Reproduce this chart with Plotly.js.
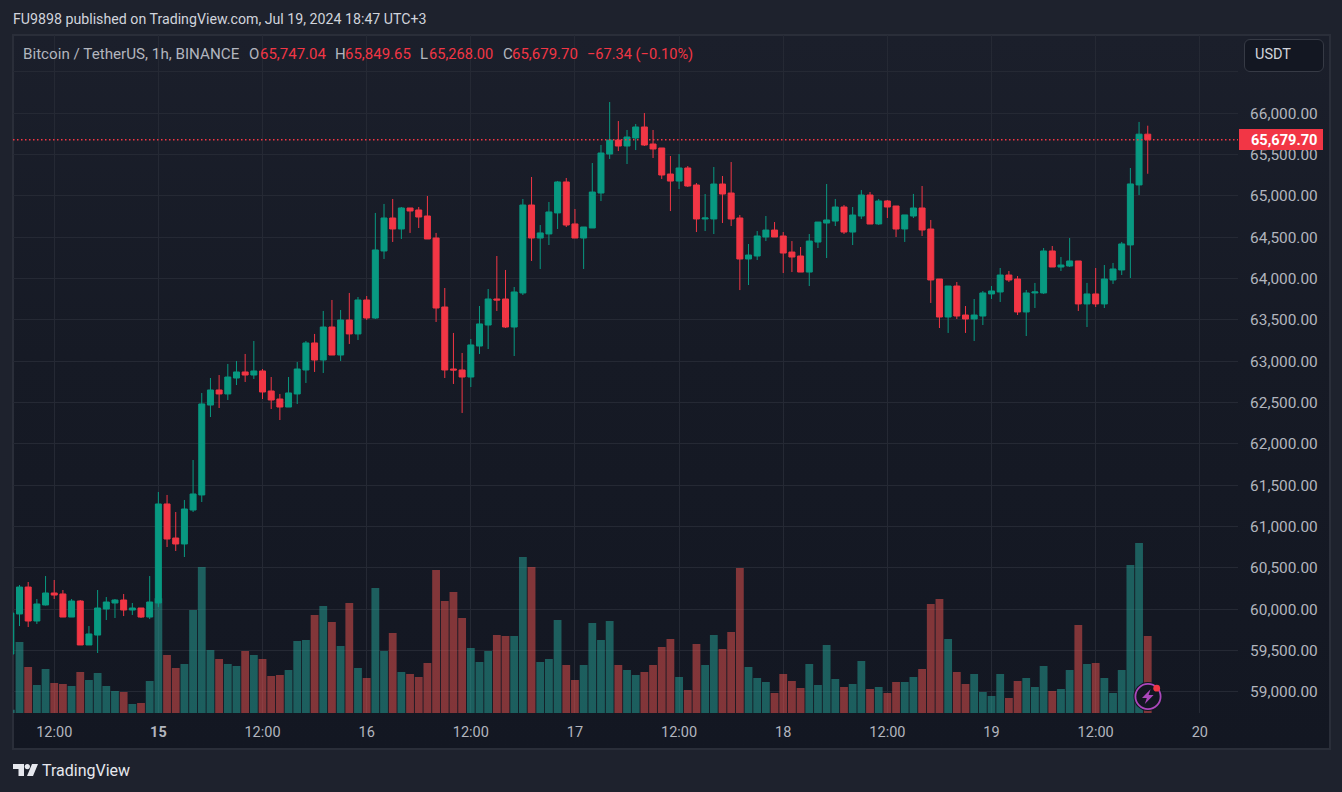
<!DOCTYPE html>
<html><head><meta charset="utf-8">
<script src="https://cdn.plot.ly/plotly-3.0.1.min.js"></script>
<style>
html,body{margin:0;padding:0;background:#1e222d;width:1342px;height:792px;overflow:hidden}
#panel{position:absolute;left:12px;top:34px;width:1315px;height:712px;border:2px solid #2a2e39;background:linear-gradient(180deg,#1b1f2b 0%,#161a25 45%,#131722 100%);box-sizing:content-box}
#usdtbox{position:absolute;left:1244px;top:39px;width:78px;height:31px;border:1.5px solid #363a45;border-radius:6px;background:#131722}
#chart{position:absolute;left:0;top:0;width:1342px;height:792px}
svg.deco{position:absolute;overflow:visible}
</style></head><body>
<div id="panel"></div><div id="usdtbox"></div><div id="chart"></div>
<svg class="deco" style="left:0;top:0" width="1342" height="792">
  <g transform="translate(13,764)" fill="#e6e8ee">
    <path d="M0 0h11v12h-5.5v-7h-5.5z"/><circle cx="14.3" cy="2.6" r="2.6"/><path d="M19 0h6l-5 12h-6z"/>
  </g>
  <g transform="translate(1148,696.5)">
    <circle r="14.5" fill="#131722"/><circle r="12.6" fill="#131722" stroke="#ab47bc" stroke-width="1.8"/>
    <path d="M2.6 -7.2 L-6 1.6 L-1.2 1.6 L-3.2 7.4 L5.6 -1.6 L0.6 -1.6 Z" fill="#ab47bc"/>
    <circle cx="8.7" cy="-8.3" r="3.4" fill="#f23645"/>
  </g>
</svg>
<script>
const startTime = Date.UTC(2024, 6, 14, 7);
const opens = [
59457,59942,60268,59857,60051,60196,60184,59905,60099,59567,
59687,60002,60075,60111,59990,60014,59905,60075,61273,60861,
60789,61200,61382,62470,62652,62604,62797,62870,62833,62882,
62640,62543,62446,62604,62894,63221,63015,63414,63075,63499,
63330,63741,63523,64334,64733,64600,64854,64830,64757,64491,
63656,62906,62894,62809,63184,63438,63753,63753,63414,63826,
64890,64491,64540,64794,65169,64661,64491,64612,65035,65507,
65676,65604,65701,65834,65628,65580,65265,65180,65338,65132,
64721,64721,65144,65035,64733,64237,64273,64503,64587,64515,
64321,64273,64079,64442,64672,64696,64866,64563,64757,65011,
64661,64939,64878,64600,64757,64854,64600,63995,63535,63910,
63559,63511,63547,63814,63838,64043,63995,63596,63826,63826,
64334,64140,64152,64213,63693,63814,63693,63983,64104,64407,
65133,65747.04];
const closes = [
59954,60268,59857,60063,60196,60171,59905,60099,59567,59700,
60014,60087,60111,59990,60014,59905,60087,61273,60849,60789,
61212,61394,62483,62652,62604,62809,62870,62833,62882,62628,
62531,62446,62616,62906,63221,63015,63414,63075,63499,63330,
63741,63523,64346,64733,64600,64854,64818,64745,64479,63644,
62894,62894,62809,63197,63451,63753,63741,63414,63838,64890,
64491,64552,64806,65169,64648,64491,64624,65047,65519,65676,
65604,65713,65834,65616,65568,65253,65180,65338,65120,64721,
64733,65144,65023,64721,64237,64285,64515,64587,64503,64309,
64261,64079,64454,64684,64709,64866,64563,64769,65011,64660,
64939,64866,64600,64770,64854,64588,63983,63535,63910,63547,
63511,63559,63826,63850,64043,63983,63596,63826,63838,64334,
64140,64164,64213,63693,63814,63693,63995,64116,64419,65145,
65747,65679.70];
const highs = [
60000,60292,60329,60123,60401,60353,60232,60123,60111,59796,
60232,60147,60123,60184,60075,60014,60401,61418,61382,61176,
61321,61805,62616,62797,62833,62967,63003,63088,63245,62906,
62809,62604,62809,62991,63245,63330,63608,63741,63620,63826,
63777,63789,64794,64903,64963,64866,64854,64866,64999,64552,
63886,63342,63100,63269,63668,63874,64273,64104,63898,64963,
65229,64648,64927,65181,65217,64842,64624,65398,65616,66136,
65906,65798,65870,66003,65798,65580,65483,65507,65362,65156,
65023,65350,65241,65410,64769,64418,64575,64757,64684,64563,
64454,64382,64539,64684,65144,64963,64890,64866,65071,65047,
64963,64951,64878,64770,65024,65120,64709,63995,63910,63959,
63668,63753,63850,63910,64128,64092,64031,63862,63947,64370,
64394,64261,64491,64213,63947,64128,64164,64189,64443,65338,
65895,65849.65];
const lows = [
59420,59796,59784,59821,60045,60123,59905,59905,59567,59567,
59470,59869,59893,59917,59930,59893,59881,60026,60752,60704,
60631,61176,61297,62325,62434,62531,62712,62749,62785,62543,
62422,62289,62446,62483,62737,62870,62858,63075,63003,63209,
63257,63499,63511,64237,64443,64479,64552,64612,64479,63475,
62797,62725,62374,62688,63088,63148,63608,63402,63063,63801,
64213,64116,64406,64600,64624,64491,64116,64612,64938,65447,
65543,65386,65555,65604,65459,65205,64817,65084,65108,64563,
64575,64539,64672,64636,63861,63922,64225,64454,64503,64067,
64079,64079,63910,64370,64249,64636,64539,64406,64721,64660,
64649,64733,64503,64443,64733,64515,63705,63402,63342,63511,
63342,63245,63438,63753,63717,63959,63559,63305,63644,63814,
64140,64092,64140,63608,63414,63656,63644,63935,64043,64007,
65011,65268];
const volumes = [
100,2130,1380,840,1320,900,870,810,1230,990,
1200,810,660,630,270,300,960,3440,1740,1350,
1470,3090,4380,1890,1620,1470,1410,1860,1740,1620,
1110,1140,1290,2160,2190,2940,3210,2730,2010,3300,
1350,1050,3750,1860,2400,1230,1170,1080,1500,4290,
3360,3630,2850,1950,1530,1860,2340,2310,2310,4680,
4380,1530,1620,2790,1440,990,1440,2700,2190,2760,
1440,1290,1140,1230,1440,1980,2220,1080,690,2070,
1440,2340,1920,2430,4350,1380,1050,930,600,1170,
960,750,1470,840,2040,1020,780,870,1560,720,
780,600,930,930,1080,1320,3270,3420,2220,1230,
870,1170,630,510,1170,450,960,1050,780,1410,
660,720,1290,2640,1470,1500,1050,600,1290,4440,
5100,2310];
const tickDates = ['2024-07-14 12:00','2024-07-15 00:00','2024-07-15 12:00','2024-07-16 00:00','2024-07-16 12:00','2024-07-17 00:00','2024-07-17 12:00','2024-07-18 00:00','2024-07-18 12:00','2024-07-19 00:00','2024-07-19 12:00','2024-07-20 00:00'];
const tickLabels = ['12:00','<b>15</b>','12:00','16','12:00','17','12:00','18','12:00','19','12:00','20'];
const priceTicks = [59000,59500,60000,60500,61000,61500,62000,62500,63000,63500,64000,64500,65000,65500,66000,66500];
const priceLabels = ['59,000.00','59,500.00','60,000.00','60,500.00','61,000.00','61,500.00','62,000.00','62,500.00','63,000.00','63,500.00','64,000.00','64,500.00','65,000.00','65,500.00','66,000.00',''];
const lastPrice = 65679.70;
const lastLabel = '65,679.70';
const publishLine = 'FU9898 published on TradingView.com, Jul 19, 2024 18:47 UTC+3';
const symbolLine = 'Bitcoin / TetherUS, 1h, BINANCE';

const times = closes.map((_, i) => new Date(startTime + i * 3600000).toISOString().slice(0, 16).replace('T', ' '));
const UP = '#089981', DOWN = '#F23645';
const volColors = closes.map((c, i) => c >= opens[i] ? 'rgba(38,166,154,0.5)' : 'rgba(239,83,80,0.5)');

const L = 13, R = 1238, T = 35, B = 713;
const px = x => (x - L) / (R - L), py = y => (B - y) / (B - T);
const FONT = 'Roboto, "Open Sans", sans-serif';
function txt(x, y, text, color, size, extra) {
  return Object.assign({xref:'paper', yref:'paper', x:px(x-2), y:py(y), text, showarrow:false, xanchor:'left', yanchor:'middle',
    font:{family:FONT, size:size||14, color:color}}, extra||{});
}
const GREY = '#b2b5be', RED = '#f23645';
const annotations = [
  txt(13, 19, publishLine, '#d1d4dc', 14.2),
  txt(23, 53.5, symbolLine, GREY, 15.2),
  txt(249, 53.5, 'O', GREY, 15), txt(260, 53.5, '65,747.04', RED, 15),
  txt(335, 53.5, 'H', GREY, 15), txt(345, 53.5, '65,849.65', RED, 15),
  txt(420, 53.5, 'L', GREY, 15), txt(429, 53.5, '65,268.00', RED, 14.6),
  txt(503, 53.5, 'C', GREY, 15), txt(512, 53.5, '65,679.70', RED, 15),
  txt(587, 53.5, '\u221267.34 (\u22120.10%)', RED, 14.6),
  txt(1255, 54.5, 'USDT', '#d1d4dc', 14.5),
  txt(42, 770, 'TradingView', '#e6e8ee', 16),
  {xref:'paper', yref:'paper', x:px(1284), y:py(139.5), xanchor:'center', yanchor:'middle', showarrow:false,
   text:'<b>'+lastLabel+'</b>', font:{family:FONT, size:14.6, color:'#ffffff'}}
];

const data = [
  {type:'bar', x:times, y:volumes, yaxis:'y', xaxis:'x', marker:{color:volColors, line:{width:0}}, hoverinfo:'skip', name:'Volume'},
  {type:'candlestick', x:times, open:opens, high:highs, low:lows, close:closes, xaxis:'x', yaxis:'y2', name:'BTCUSDT',
   whiskerwidth:0, increasing:{line:{color:UP, width:1}, fillcolor:UP}, decreasing:{line:{color:DOWN, width:1}, fillcolor:DOWN}, hoverinfo:'skip'}
];
const layout = {
  width:1342, height:792, margin:{l:L, r:1342-R, t:T, b:792-B, pad:0}, autosize:false,
  paper_bgcolor:'rgba(0,0,0,0)', plot_bgcolor:'rgba(0,0,0,0)', showlegend:false, hovermode:false,
  bargap:0.1, boxgap:0.31, boxgroupgap:0, dragmode:false,
  font:{family:FONT, color:GREY, size:14},
  xaxis:{type:'date', range:['2024-07-14 07:15','2024-07-20 04:24'], rangeslider:{visible:false}, tickmode:'array', tickvals:tickDates, ticktext:tickLabels,
    showgrid:true, gridcolor:'#252934', gridwidth:1, zeroline:false, showline:false, ticks:'outside', ticklen:6, tickcolor:'rgba(0,0,0,0)', tickfont:{family:FONT,size:14.5,color:GREY}},
  yaxis:{range:[0,20340], showgrid:false, zeroline:false, showticklabels:false, showline:false, ticks:''},
  yaxis2:{overlaying:'y', side:'right', anchor:'x', range:[58744,66947], tickmode:'array', tickvals:priceTicks, ticktext:priceLabels,
    showgrid:true, gridcolor:'#252934', gridwidth:1, zeroline:false, showline:false, ticks:'outside', ticklen:8, tickcolor:'rgba(0,0,0,0)', tickfont:{family:FONT,size:15.4,color:GREY}},
  shapes:[
    {type:'line', xref:'paper', x0:0, x1:1, yref:'y2', y0:lastPrice, y1:lastPrice, line:{color:'#f23645', width:1.4, dash:'1.5px,2.5px'}},
    {type:'rect', xref:'paper', yref:'paper', x0:px(1239), x1:px(1323), y0:py(150), y1:py(129), fillcolor:'#f23645', line:{width:0}}
  ],
  annotations
};
Plotly.newPlot('chart', data, layout, {displayModeBar:false, staticPlot:true});
</script>
</body></html>
